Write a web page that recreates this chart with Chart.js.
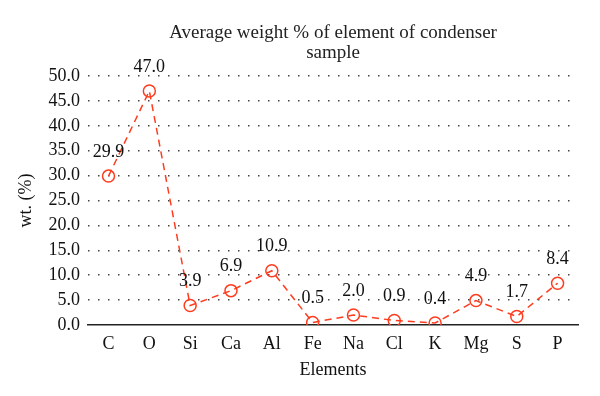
<!DOCTYPE html>
<html>
<head>
<meta charset="utf-8">
<script src="https://cdn.jsdelivr.net/npm/chart.js@4.4.0/dist/chart.umd.min.js"></script>
<style>
  html, body { margin: 0; padding: 0; background: #fff; }
  #wrap { width: 600px; height: 396px; }
</style>
</head>
<body>
<div id="wrap"><canvas id="chart"></canvas></div>
<script>
let elements = ["C", "O", "Si", "Ca", "Al", "Fe", "Na", "Cl", "K", "Mg", "S", "P"];
let weights = [29.9, 47.0, 3.9, 6.9, 10.9, 0.5, 2.0, 0.9, 0.4, 4.9, 1.7, 8.4];
let titleLines = ["Average weight % of element of condenser", "sample"];

const serif = "'Liberation Serif', 'DejaVu Serif', serif";
const lineColor = "#ff3c1e";

// value above each point + title centred over the plot area
const extras = {
  id: "extras",
  afterDatasetsDraw(chart) {
    const ctx = chart.ctx;
    const meta = chart.getDatasetMeta(0);
    const area = chart.chartArea;
    ctx.save();
    ctx.fillStyle = "#111";
    ctx.textAlign = "center";
    ctx.textBaseline = "middle";
    ctx.font = "18px " + serif;
    meta.data.forEach((pt, i) => {
      ctx.fillText(weights[i].toFixed(1), pt.x, pt.y - 24);
    });
    ctx.fillStyle = "#222";
    ctx.font = "19px " + serif;
    const cx = (area.left + area.right) / 2;
    titleLines.forEach((t, i) => {
      ctx.fillText(t, cx, 33 + i * 20);
    });
    ctx.restore();
  }
};

new Chart("chart", {
  type: "line",
  data: {
    labels: elements,
    datasets: [
      {
        data: weights,
        borderColor: lineColor,
        borderWidth: 1.5,
        borderDash: [7, 5],
        pointStyle: "circle",
        pointRadius: 6,
        pointBorderWidth: 1.5,
        pointBorderColor: lineColor,
        pointBackgroundColor: "rgba(255,255,255,0)",
        tension: 0,
      },
    ],
  },
  options: {
    responsive: true,
    maintainAspectRatio: false,
    animation: false,
    layout: { padding: { left: 11, right: 22, top: 76, bottom: 17 } },
    plugins: {
      legend: { display: false },
      tooltip: { enabled: false },
      title: { display: false },
    },
    scales: {
      x: {
        offset: true,
        grid: { display: false },
        border: { display: true, color: "#222", width: 1.5 },
        ticks: { autoSkip: false, maxRotation: 0, color: "#111", font: { family: serif, size: 18, lineHeight: 1.0 }, padding: 2 },
        title: {
          display: true,
          text: "Elements",
          color: "#111",
          font: { family: serif, size: 18, lineHeight: 1.0 },
          padding: { top: 6, bottom: 0 },
        },
      },
      y: {
        min: 0,
        max: 50,
        ticks: {
          autoSkip: false,
          stepSize: 5,
          color: "#111",
          font: { family: serif, size: 18 },
          padding: 8,
          callback: (v) => v.toFixed(1),
        },
        grid: {
          drawTicks: false,
          color: (c) => (c.tick.value === 0 ? "rgba(0,0,0,0)" : "#444"),
          lineWidth: 1.5,
        },
        border: { display: false, dash: [1.5, 8.5] },
        title: {
          display: true,
          text: "wt. (%)",
          color: "#111",
          font: { family: serif, size: 18 },
          padding: { bottom: 4 },
        },
      },
    },
  },
  plugins: [extras],
});
</script>
</body>
</html>
